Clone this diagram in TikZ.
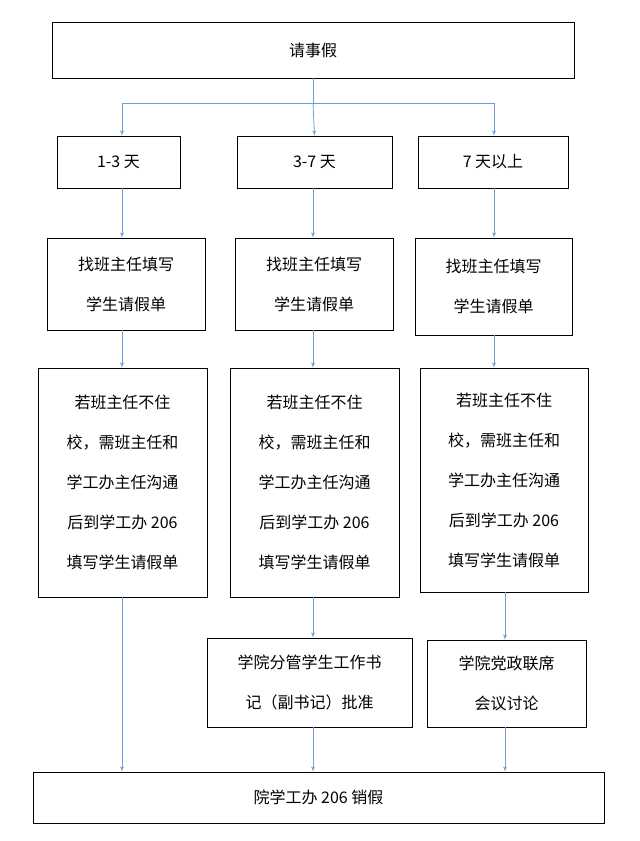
\documentclass[tikz,border=0pt]{standalone}
\usepackage{fontspec}
\setmainfont{Noto Sans CJK SC}
\usetikzlibrary{arrows}

\begin{document}
\begin{tikzpicture}[x=1pt,y=-1pt,>=latex',font=\fontsize{16}{40}\selectfont]
    \tikzstyle{box} = [draw, rectangle, align=center, inner sep=0pt];
    \tikzstyle{link} = [->, draw={rgb,255:red,110;green,160;blue,215}, thick];
    \useasboundingbox (0,0) rectangle (640,841);
    \node [box, minimum width=522, minimum height=56] (ask) at (313,50) {请事假};
    \node [box, minimum width=123, minimum height=52] (d1) at (118.5,162) {1-3 天};
    \node [box, minimum width=155, minimum height=52] (d2) at (314.5,162) {3-7 天};
    \node [box, minimum width=150, minimum height=52] (d3) at (493,162) {7 天以上};
    \node [box, minimum width=158, minimum height=92] (f1) at (126,284) {找班主任填写\\学生请假单};
    \node [box, minimum width=158, minimum height=92] (f2) at (314,284) {找班主任填写\\学生请假单};
    \node [box, minimum width=157, minimum height=97] (f3) at (493.5,286.5) {找班主任填写\\学生请假单};
    \node [box, minimum width=169, minimum height=229] (n1) at (122.5,482.5) {若班主任不住\\校，需班主任和\\学工办主任沟通\\后到学工办 206\\填写学生请假单};
    \node [box, minimum width=169, minimum height=229] (n2) at (314.5,482.5) {若班主任不住\\校，需班主任和\\学工办主任沟通\\后到学工办 206\\填写学生请假单};
    \node [box, minimum width=168, minimum height=224] (n3) at (504,480) {若班主任不住\\校，需班主任和\\学工办主任沟通\\后到学工办 206\\填写学生请假单};
    \node [box, minimum width=205, minimum height=89] (s2) at (309.5,682.5) {学院分管学生工作书\\记（副书记）批准};
    \node [box, minimum width=159, minimum height=87] (s3) at (506.5,683.5) {学院党政联席\\会议讨论};
    \node [box, minimum width=571, minimum height=51] (done) at (318.5,797.5) {院学工办 206 销假};
    % branch
    \draw [link, -] (ask.south) -- (313,103) coordinate (j);
    \draw [link, -] (122,103) coordinate (jl) -- (494,103) coordinate (jr);
    \draw [link] (jl) -- (jl |- d1.north);
    \draw [link] (j) -- (d2.north);
    \draw [link] (jr) -- (jr |- d3.north);
    % columns
    \draw [link] (d1.south -| 122,0) -- (f1.north -| 122,0);
    \draw [link] (f1.south -| 122,0) -- (n1.north -| 122,0);
    \draw [link] (n1.south -| 122,0) -- (done.north -| 122,0);
    \draw [link] (d2.south -| 313,0) -- (f2.north -| 313,0);
    \draw [link] (f2.south -| 313,0) -- (n2.north -| 313,0);
    \draw [link] (n2.south -| 313,0) -- (s2.north -| 313,0);
    \draw [link] (s2.south -| 313,0) -- (done.north -| 313,0);
    \draw [link] (d3.south -| 494,0) -- (f3.north -| 494,0);
    \draw [link] (f3.south -| 494,0) -- (n3.north -| 494,0);
    \draw [link] (n3.south -| 505,0) -- (s3.north -| 505,0);
    \draw [link] (s3.south -| 505,0) -- (done.north -| 505,0);
\end{tikzpicture}
\end{document}
